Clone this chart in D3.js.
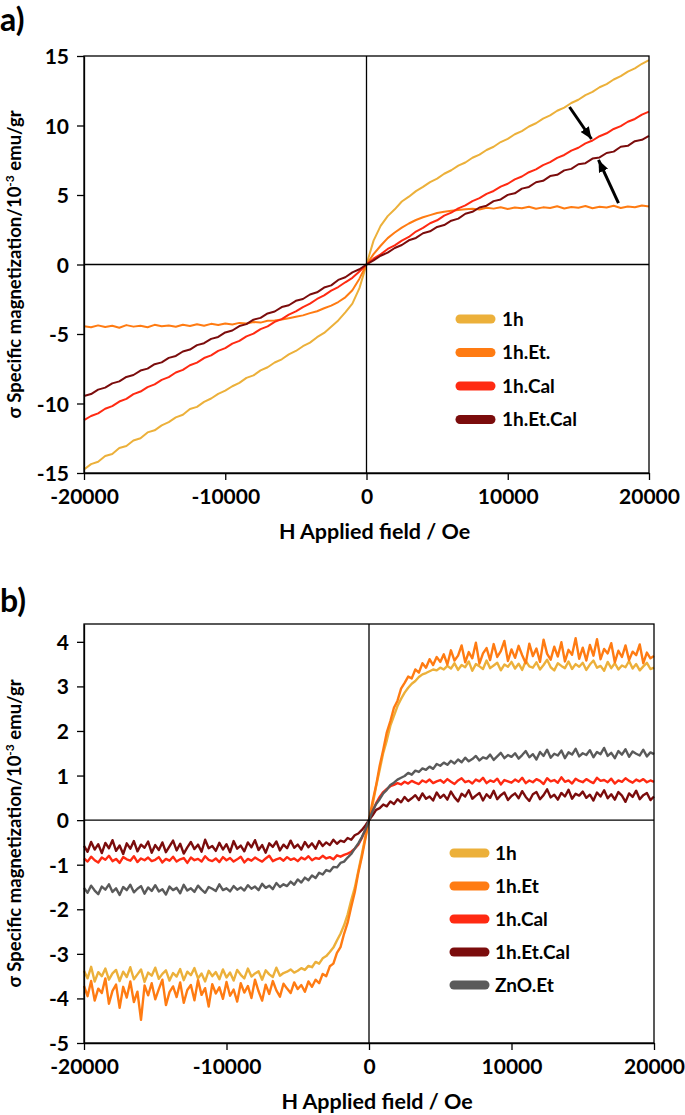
<!DOCTYPE html>
<html>
<head>
<meta charset="utf-8">
<script src="https://cdn.jsdelivr.net/npm/d3@7/dist/d3.min.js"></script>
<style>
  html, body { margin: 0; padding: 0; background: #fff; }
  svg { display: block; }
  text { font-family: Lato, "Open Sans", "DejaVu Sans", sans-serif; font-weight: bold; fill: #000; }
</style>
</head>
<body>
<svg id="chart" width="685" height="1115"></svg>
<script>
// ---------------- DATA ----------------
const fieldTicks = [-20000, -10000, 0, 10000, 20000];
const sigmaTicksA = [-15, -10, -5, 0, 5, 10, 15];
const sigmaTicksB = [-5, -4, -3, -2, -1, 0, 1, 2, 3, 4];

const seriesNamesA = ["1h", "1h.Et.", "1h.Cal", "1h.Et.Cal"];
const seriesNamesB = ["1h", "1h.Et", "1h.Cal", "1h.Et.Cal", "ZnO.Et"];
const seriesColors = { "1h": "#ecb03a", "1h.Et": "#ff7b12", "1h.Cal": "#ff2a12", "1h.Et.Cal": "#7b0c0c", "ZnO.Et": "#5a5a5a" };

// Panel a: applied field (Oe)
const fieldA = [-20000,-19500,-19000,-18500,-18000,-17500,-17000,-16500,-16000,-15500,
  -15000,-14500,-14000,-13500,-13000,-12500,-12000,-11500,-11000,-10500,
  -10000,-9500,-9000,-8500,-8000,-7500,-7000,-6500,-6000,-5500,
  -5000,-4500,-4000,-3500,-3000,-2500,-2000,-1500,-1000,-500,
  0,
  500,1000,1500,2000,2500,3000,3500,4000,4500,5000,
  5500,6000,6500,7000,7500,8000,8500,9000,9500,10000,
  10500,11000,11500,12000,12500,13000,13500,14000,14500,15000,
  15500,16000,16500,17000,17500,18000,18500,19000,19500,20000];

const sigma1hA = [-14.75,-14.36,-14.19,-13.78,-13.63,-13.20,-13.06,-12.66,-12.50,-12.08,
  -11.93,-11.57,-11.34,-11.00,-10.81,-10.40,-10.24,-9.88,-9.64,-9.31,
  -9.08,-8.76,-8.52,-8.16,-7.98,-7.62,-7.39,-7.05,-6.82,-6.47,
  -6.22,-5.88,-5.62,-5.23,-4.92,-4.47,-4.02,-3.44,-2.82,-1.70,
  0.00,
  1.72,2.78,3.48,3.97,4.53,4.88,5.28,5.58,5.93,6.18,
  6.53,6.78,7.11,7.34,7.68,7.91,8.24,8.47,8.81,9.04,
  9.37,9.60,9.93,10.16,10.50,10.73,11.06,11.29,11.62,11.85,
  12.19,12.42,12.75,12.98,13.31,13.55,13.88,14.11,14.44,14.70];

const sigmaEtA = [-4.45,-4.52,-4.38,-4.49,-4.41,-4.55,-4.36,-4.47,-4.40,-4.51,
  -4.34,-4.44,-4.39,-4.48,-4.33,-4.42,-4.30,-4.41,-4.27,-4.35,
  -4.24,-4.31,-4.20,-4.25,-4.14,-4.18,-4.05,-4.02,-3.95,-3.86,
  -3.76,-3.66,-3.50,-3.36,-3.15,-2.96,-2.70,-2.36,-1.85,-1.02,
  0.00,
  0.75,1.35,1.90,2.30,2.65,2.95,3.20,3.40,3.55,3.70,
  3.80,3.86,3.92,3.97,4.01,3.96,4.08,4.02,4.12,3.99,
  4.10,4.05,4.16,4.01,4.11,4.07,4.19,4.03,4.14,4.08,
  4.21,4.05,4.15,4.10,4.23,4.07,4.18,4.12,4.25,4.17];

const sigmaCalA = [-11.20,-10.90,-10.71,-10.38,-10.19,-9.86,-9.67,-9.33,-9.14,-8.82,
  -8.62,-8.30,-8.10,-7.77,-7.58,-7.25,-7.06,-6.73,-6.54,-6.21,
  -6.02,-5.69,-5.49,-5.17,-4.97,-4.65,-4.45,-4.13,-3.93,-3.60,
  -3.37,-3.06,-2.82,-2.48,-2.22,-1.88,-1.62,-1.28,-0.96,-0.50,
  0.00,
  0.42,0.73,1.12,1.38,1.72,1.98,2.37,2.63,2.97,3.18,
  3.52,3.73,4.04,4.25,4.56,4.77,5.08,5.29,5.60,5.81,
  6.12,6.33,6.64,6.84,7.15,7.36,7.67,7.88,8.19,8.40,
  8.71,8.92,9.23,9.44,9.75,9.96,10.27,10.47,10.78,11.00];

const sigmaEtCalA = [-9.46,-9.32,-9.00,-8.86,-8.55,-8.41,-8.09,-7.95,-7.63,-7.49,
  -7.17,-7.04,-6.72,-6.58,-6.26,-6.12,-5.80,-5.66,-5.35,-5.21,
  -4.89,-4.75,-4.43,-4.29,-3.97,-3.84,-3.52,-3.38,-3.06,-2.93,
  -2.61,-2.48,-2.16,-2.00,-1.66,-1.50,-1.11,-0.92,-0.57,-0.34,
  0.00,
  0.30,0.63,0.85,1.19,1.40,1.74,1.91,2.25,2.39,2.70,
  2.84,3.15,3.30,3.65,3.79,4.10,4.23,4.56,4.68,5.01,
  5.12,5.46,5.58,5.92,6.02,6.36,6.45,6.77,6.88,7.21,
  7.29,7.62,7.70,8.02,8.12,8.47,8.54,8.87,8.97,9.25];

// arrow annotations (field, sigma) in panel a
const arrowFromA = [[14370, 11.33], [17840, 4.42]];
const arrowToA   = [[15930, 9.03], [16425, 7.52]];

// Panel b: applied field (Oe)
const fieldB = [-20000,-19750,-19500,-19250,-19000,-18750,-18500,-18250,-18000,-17750,-17500,-17250,-17000,-16750,-16500,-16250,-16000,-15750,-15500,-15250,
  -15000,-14750,-14500,-14250,-14000,-13750,-13500,-13250,-13000,-12750,-12500,-12250,-12000,-11750,-11500,-11250,-11000,-10750,-10500,-10250,
  -10000,-9750,-9500,-9250,-9000,-8750,-8500,-8250,-8000,-7750,-7500,-7250,-7000,-6750,-6500,-6250,-6000,-5750,-5500,-5250,
  -5000,-4750,-4500,-4250,-4000,-3750,-3500,-3250,-3000,-2750,-2500,-2250,-2000,-1750,-1500,-1250,-1000,-750,-500,-250,
  0,
  250,500,750,1000,1250,1500,1750,2000,2250,2500,2750,3000,3250,3500,3750,4000,4250,4500,4750,5000,
  5250,5500,5750,6000,6250,6500,6750,7000,7250,7500,7750,8000,8250,8500,8750,9000,9250,9500,9750,10000,
  10250,10500,10750,11000,11250,11500,11750,12000,12250,12500,12750,13000,13250,13500,13750,14000,14250,14500,14750,15000,
  15250,15500,15750,16000,16250,16500,16750,17000,17250,17500,17750,18000,18250,18500,18750,19000,19250,19500,19750,20000];

const sigma1hB = [-3.38,-3.55,-3.29,-3.62,-3.41,-3.50,-3.33,-3.58,-3.44,-3.36,-3.61,-3.40,-3.52,-3.30,-3.57,-3.46,-3.35,-3.63,-3.42,-3.49,
  -3.31,-3.56,-3.45,-3.37,-3.60,-3.43,-3.51,-3.34,-3.59,-3.40,-3.48,-3.32,-3.55,-3.44,-3.62,-3.38,-3.50,-3.41,-3.57,-3.35,
  -3.53,-3.42,-3.60,-3.36,-3.47,-3.55,-3.33,-3.51,-3.44,-3.39,-3.58,-3.37,-3.46,-3.52,-3.31,-3.49,-3.43,-3.40,-3.35,-3.42,
  -3.38,-3.32,-3.36,-3.27,-3.30,-3.18,-3.22,-3.10,-3.05,-2.96,-2.86,-2.70,-2.55,-2.36,-2.12,-1.80,-1.52,-1.14,-0.76,-0.36,
  0.00,
  0.34,0.76,1.13,1.51,1.79,2.12,2.34,2.56,2.72,2.86,2.97,3.06,3.12,3.21,3.27,3.30,3.34,3.38,3.36,3.42,
  3.38,3.46,3.40,3.52,3.37,3.48,3.43,3.56,3.35,3.50,3.45,3.39,3.58,3.41,3.47,3.53,3.36,3.49,3.44,3.55,
  3.40,3.51,3.37,3.57,3.45,3.42,3.54,3.38,3.48,3.60,3.43,3.36,3.52,3.46,3.41,3.56,3.39,3.50,3.44,3.53,
  3.37,3.49,3.58,3.42,3.46,3.35,3.55,3.41,3.52,3.38,3.47,3.43,3.57,3.40,3.50,3.36,3.45,3.53,3.39,3.42];

const sigmaEtB = [-3.72,-3.95,-3.61,-4.05,-3.78,-3.88,-3.55,-4.12,-3.83,-3.69,-4.21,-3.74,-3.98,-3.62,-4.08,-3.85,-4.48,-3.71,-3.93,-3.66,
  -4.02,-3.79,-3.58,-4.15,-3.86,-3.73,-3.97,-3.64,-4.10,-3.81,-3.70,-4.04,-3.59,-3.92,-3.77,-4.18,-3.68,-3.89,-3.75,-4.01,
  -3.63,-3.94,-3.80,-4.07,-3.66,-3.87,-3.72,-3.99,-3.58,-3.84,-4.05,-3.69,-3.90,-3.61,-3.82,-3.96,-3.67,-3.78,-3.88,-3.64,
  -3.79,-3.70,-3.85,-3.62,-3.74,-3.58,-3.66,-3.45,-3.50,-3.28,-3.22,-2.98,-2.85,-2.55,-2.30,-1.95,-1.62,-1.18,-0.82,-0.41,
  0.00,
  0.42,0.78,1.22,1.58,1.97,2.22,2.52,2.68,2.95,3.08,3.22,3.18,3.38,3.31,3.52,3.42,3.61,3.48,3.66,3.55,
  3.72,3.49,3.81,3.58,3.69,3.92,3.54,3.77,3.63,3.98,3.51,3.74,3.86,3.59,3.95,3.66,3.79,4.02,3.57,3.83,
  3.64,3.91,3.70,3.52,3.96,3.68,3.85,3.55,4.05,3.73,3.60,3.89,3.67,3.99,3.56,3.82,3.71,4.08,3.62,3.87,
  3.58,3.93,3.69,4.06,3.61,3.84,3.74,3.97,3.54,3.80,3.66,3.92,3.59,3.78,3.70,3.94,3.52,3.76,3.63,3.68];

const sigmaCalB = [-0.86,-0.93,-0.82,-0.90,-0.95,-0.84,-0.89,-0.80,-0.92,-0.87,-0.96,-0.83,-0.88,-0.91,-0.81,-0.94,-0.86,-0.90,-0.84,-0.92,
  -0.89,-0.83,-0.95,-0.87,-0.91,-0.82,-0.93,-0.88,-0.85,-0.96,-0.84,-0.90,-0.87,-0.93,-0.81,-0.89,-0.92,-0.86,-0.94,-0.83,
  -0.90,-0.85,-0.93,-0.88,-0.82,-0.95,-0.87,-0.91,-0.84,-0.89,-0.93,-0.86,-0.80,-0.92,-0.88,-0.85,-0.91,-0.83,-0.89,-0.86,
  -0.92,-0.84,-0.88,-0.81,-0.90,-0.85,-0.87,-0.80,-0.86,-0.83,-0.88,-0.79,-0.82,-0.78,-0.75,-0.71,-0.64,-0.55,-0.40,-0.21,
  0.00,
  0.20,0.38,0.52,0.63,0.70,0.76,0.79,0.83,0.80,0.86,0.82,0.88,0.84,0.81,0.89,0.85,0.91,0.83,0.87,0.90,
  0.84,0.92,0.86,0.81,0.89,0.94,0.85,0.88,0.82,0.91,0.87,0.95,0.83,0.89,0.86,0.93,0.80,0.90,0.87,0.84,
  0.91,0.86,0.95,0.83,0.89,0.85,0.92,0.88,0.81,0.94,0.87,0.90,0.84,0.96,0.86,0.89,0.82,0.93,0.88,0.85,
  0.92,0.87,0.83,0.95,0.88,0.90,0.85,0.93,0.82,0.89,0.86,0.94,0.88,0.84,0.91,0.87,0.92,0.85,0.89,0.86];

const sigmaEtCalB = [-0.58,-0.71,-0.49,-0.66,-0.54,-0.74,-0.51,-0.63,-0.45,-0.69,-0.57,-0.76,-0.52,-0.64,-0.47,-0.70,-0.55,-0.62,-0.48,-0.73,
  -0.56,-0.67,-0.50,-0.72,-0.59,-0.46,-0.68,-0.53,-0.75,-0.61,-0.49,-0.65,-0.55,-0.71,-0.44,-0.63,-0.58,-0.69,-0.51,-0.66,
  -0.54,-0.72,-0.47,-0.64,-0.57,-0.70,-0.50,-0.61,-0.45,-0.67,-0.56,-0.73,-0.52,-0.60,-0.48,-0.68,-0.55,-0.63,-0.46,-0.62,
  -0.55,-0.66,-0.49,-0.61,-0.52,-0.64,-0.47,-0.58,-0.50,-0.56,-0.44,-0.53,-0.46,-0.49,-0.40,-0.44,-0.34,-0.30,-0.22,-0.12,
  0.00,
  0.11,0.23,0.27,0.35,0.31,0.42,0.36,0.47,0.40,0.52,0.43,0.49,0.56,0.45,0.60,0.48,0.53,0.44,0.62,0.50,
  0.57,0.46,0.64,0.51,0.42,0.59,0.53,0.67,0.48,0.55,0.61,0.44,0.58,0.50,0.66,0.47,0.56,0.62,0.45,0.54,
  0.60,0.49,0.65,0.52,0.43,0.58,0.63,0.47,0.56,0.69,0.51,0.57,0.46,0.61,0.53,0.68,0.48,0.59,0.55,0.64,
  0.50,0.57,0.44,0.62,0.53,0.67,0.49,0.58,0.46,0.63,0.55,0.41,0.60,0.52,0.66,0.47,0.56,0.61,0.45,0.53];

const sigmaZnOB = [-1.52,-1.63,-1.47,-1.58,-1.66,-1.49,-1.56,-1.44,-1.61,-1.53,-1.68,-1.50,-1.57,-1.45,-1.62,-1.54,-1.48,-1.65,-1.51,-1.59,
  -1.46,-1.60,-1.55,-1.67,-1.49,-1.57,-1.52,-1.64,-1.45,-1.58,-1.53,-1.61,-1.47,-1.56,-1.63,-1.50,-1.54,-1.59,-1.44,-1.57,
  -1.53,-1.60,-1.48,-1.56,-1.51,-1.58,-1.46,-1.54,-1.49,-1.57,-1.43,-1.52,-1.47,-1.55,-1.41,-1.50,-1.44,-1.48,-1.38,-1.45,
  -1.33,-1.40,-1.29,-1.35,-1.24,-1.30,-1.18,-1.22,-1.12,-1.15,-1.05,-1.06,-0.96,-0.93,-0.84,-0.76,-0.64,-0.52,-0.38,-0.21,
  0.00,
  0.20,0.36,0.47,0.60,0.68,0.79,0.84,0.91,0.95,0.99,1.06,1.02,1.11,1.08,1.16,1.13,1.20,1.15,1.26,1.22,
  1.29,1.24,1.33,1.27,1.36,1.30,1.40,1.32,1.37,1.44,1.34,1.41,1.38,1.47,1.35,1.43,1.51,1.39,1.46,1.42,
  1.50,1.38,1.46,1.55,1.41,1.48,1.36,1.53,1.44,1.58,1.40,1.49,1.45,1.56,1.39,1.52,1.47,1.60,1.43,1.50,
  1.46,1.57,1.41,1.53,1.48,1.62,1.44,1.51,1.39,1.55,1.47,1.59,1.42,1.54,1.49,1.45,1.58,1.43,1.52,1.48];

// ---------------- DRAW ----------------
const svg = d3.select("#chart");
svg.append("rect").attr("width", 685).attr("height", 1115).attr("fill", "#fff");

svg.append("defs").append("marker")
  .attr("id", "arrowhead").attr("markerUnits", "userSpaceOnUse")
  .attr("viewBox", "0 0 12 10").attr("refX", 12).attr("refY", 5)
  .attr("markerWidth", 12).attr("markerHeight", 10).attr("orient", "auto")
  .append("path").attr("d", "M0,0 L12,5 L0,10 Z").attr("fill", "#000");

function drawPanel(cfg) {
  const { x, y, yTicks, field, series, names, label, labelY, legendX, legendY, legendGap, textX, lineWidth } = cfg;
  const g = svg.append("g");
  const [x0, x1] = x.range();
  const [yb, yt] = y.range();

  const line = d3.line().x(d => x(d[0])).y(d => y(d[1]));
  series.forEach((vals, k) => {
    const pts = field.map((h, i) => [h, vals[i]]).filter(p => p[1] !== undefined);
    g.append("path").datum(pts)
      .attr("fill", "none")
      .attr("stroke", seriesColors[names[k].replace(/\.$/, "")])
      .attr("stroke-width", lineWidth)
      .attr("stroke-linejoin", "round")
      .attr("d", line);
  });

  // frame and zero lines
  g.append("rect").attr("x", x0).attr("y", yt).attr("width", x1 - x0).attr("height", yb - yt)
    .attr("fill", "none").attr("stroke", "#000").attr("stroke-width", 1.3);
  g.append("line").attr("x1", x(0)).attr("x2", x(0)).attr("y1", yt).attr("y2", yb)
    .attr("stroke", "#000").attr("stroke-width", 1.3);
  g.append("line").attr("x1", x0).attr("x2", x1).attr("y1", y(0)).attr("y2", y(0))
    .attr("stroke", "#000").attr("stroke-width", 1.3);

  // axes
  const ax = g.append("g").attr("transform", `translate(0,${yb})`)
    .call(d3.axisBottom(x).tickValues(fieldTicks).tickSize(7).tickSizeOuter(0).tickPadding(9).tickFormat(d => String(d)));
  const ay = g.append("g").attr("transform", `translate(${x0},0)`)
    .call(d3.axisLeft(y).tickValues(yTicks).tickSize(7).tickSizeOuter(0).tickPadding(8).tickFormat(d => String(d)));
  [ax, ay].forEach(a => {
    a.select(".domain").attr("stroke", "#000").attr("stroke-width", 1.3);
    a.selectAll(".tick line").attr("stroke", "#000").attr("stroke-width", 1.3);
    a.selectAll(".tick text").attr("font-size", 21).attr("font-family", "Lato, sans-serif").attr("font-weight", "bold").attr("fill", "#000");
  });
  ay.selectAll(".tick text").attr("dy", "0.36em");
  ax.selectAll(".tick text").attr("dy", "0.72em");

  // axis titles
  g.append("text").attr("x", (x0 + x1) / 2 + 8).attr("y", yb + 66)
    .attr("text-anchor", "middle").attr("font-size", 21.5).text("H Applied field / Oe");
  const yt2 = g.append("text").attr("transform", `translate(21,${(yb + yt) / 2}) rotate(-90)`)
    .attr("text-anchor", "middle").attr("font-size", 18.5);
  yt2.append("tspan").text("σ Specific magnetization/10");
  yt2.append("tspan").attr("font-size", 12).attr("dy", -7).text("-3");
  yt2.append("tspan").attr("dy", 7).text(" emu/gr");

  // panel label
  svg.append("text").attr("x", 0).attr("y", labelY).attr("font-size", 32).text(label);

  // legend
  names.forEach((n, k) => {
    const ly = legendY + k * legendGap;
    g.append("line").attr("x1", legendX).attr("x2", legendX + 31).attr("y1", ly).attr("y2", ly)
      .attr("stroke", seriesColors[n.replace(/\.$/, "")]).attr("stroke-width", 9).attr("stroke-linecap", "round");
    g.append("text").attr("x", textX).attr("y", ly).attr("dy", "0.36em").attr("font-size", 19).text(n);
  });
  return g;
}

const xA = d3.scaleLinear().domain([-20000, 20000]).range([84, 649]);
const yA = d3.scaleLinear().domain([-15, 15]).range([473, 56]);
const gA = drawPanel({
  x: xA, y: yA, yTicks: sigmaTicksA, field: fieldA,
  series: [sigma1hA, sigmaEtA, sigmaCalA, sigmaEtCalA], names: seriesNamesA,
  label: "a)", labelY: 31, legendX: 460, legendY: 319, legendGap: 33.5, textX: 502, lineWidth: 2
});
arrowFromA.forEach((f, i) => {
  const t = arrowToA[i];
  gA.append("line").attr("x1", xA(f[0])).attr("y1", yA(f[1])).attr("x2", xA(t[0])).attr("y2", yA(t[1]))
    .attr("stroke", "#000").attr("stroke-width", 3).attr("marker-end", "url(#arrowhead)");
});

const xB = d3.scaleLinear().domain([-20000, 20000]).range([84, 654]);
const yB = d3.scaleLinear().domain([-5, 4.4]).range([1043, 624]);
drawPanel({
  x: xB, y: yB, yTicks: sigmaTicksB, field: fieldB,
  series: [sigma1hB, sigmaEtB, sigmaCalB, sigmaEtCalB, sigmaZnOB], names: seriesNamesB,
  label: "b)", labelY: 612, legendX: 454, legendY: 853, legendGap: 33, textX: 495, lineWidth: 2.4
});
</script>
</body>
</html>
